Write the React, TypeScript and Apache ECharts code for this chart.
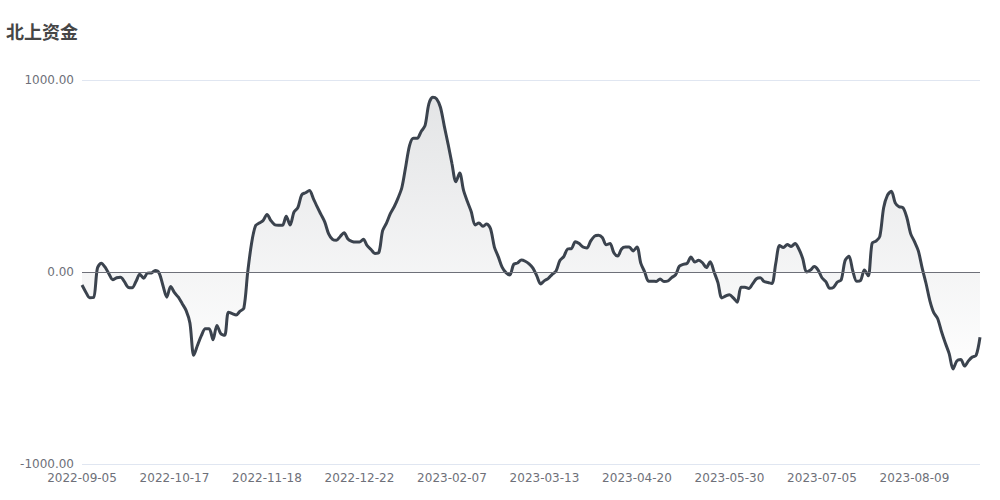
import React, { useEffect, useRef } from "react";
import * as echarts from "echarts";

const chartTitle = "北上资金";

const dates: string[] = [
  "2022-09-05","2022-09-06","2022-09-07","2022-09-08","2022-09-09","2022-09-13","2022-09-14","2022-09-15","2022-09-16","2022-09-19","2022-09-20","2022-09-21","2022-09-22","2022-09-23","2022-09-26","2022-09-27","2022-09-28","2022-09-29","2022-09-30","2022-10-10","2022-10-11","2022-10-12","2022-10-13","2022-10-14",
  "2022-10-17","2022-10-18","2022-10-19","2022-10-20","2022-10-21","2022-10-24","2022-10-25","2022-10-26","2022-10-27","2022-10-28","2022-10-31","2022-11-01","2022-11-02","2022-11-03","2022-11-04","2022-11-07","2022-11-08","2022-11-09","2022-11-10","2022-11-11","2022-11-14","2022-11-15","2022-11-16","2022-11-17",
  "2022-11-18","2022-11-21","2022-11-22","2022-11-23","2022-11-24","2022-11-25","2022-11-28","2022-11-29","2022-11-30","2022-12-01","2022-12-02","2022-12-05","2022-12-06","2022-12-07","2022-12-08","2022-12-09","2022-12-12","2022-12-13","2022-12-14","2022-12-15","2022-12-16","2022-12-19","2022-12-20","2022-12-21",
  "2022-12-22","2022-12-23","2022-12-28","2022-12-29","2022-12-30","2023-01-03","2023-01-04","2023-01-05","2023-01-06","2023-01-09","2023-01-10","2023-01-11","2023-01-12","2023-01-13","2023-01-16","2023-01-17","2023-01-18","2023-01-19","2023-01-30","2023-01-31","2023-02-01","2023-02-02","2023-02-03","2023-02-06",
  "2023-02-07","2023-02-08","2023-02-09","2023-02-10","2023-02-13","2023-02-14","2023-02-15","2023-02-16","2023-02-17","2023-02-20","2023-02-21","2023-02-22","2023-02-23","2023-02-24","2023-02-27","2023-02-28","2023-03-01","2023-03-02","2023-03-03","2023-03-06","2023-03-07","2023-03-08","2023-03-09","2023-03-10",
  "2023-03-13","2023-03-14","2023-03-15","2023-03-16","2023-03-17","2023-03-20","2023-03-21","2023-03-22","2023-03-23","2023-03-24","2023-03-27","2023-03-28","2023-03-29","2023-03-30","2023-03-31","2023-04-03","2023-04-04","2023-04-11","2023-04-12","2023-04-13","2023-04-14","2023-04-17","2023-04-18","2023-04-19",
  "2023-04-20","2023-04-21","2023-04-24","2023-04-25","2023-04-26","2023-04-27","2023-04-28","2023-05-04","2023-05-05","2023-05-08","2023-05-09","2023-05-10","2023-05-11","2023-05-12","2023-05-15","2023-05-16","2023-05-17","2023-05-18","2023-05-19","2023-05-22","2023-05-23","2023-05-24","2023-05-25","2023-05-29",
  "2023-05-30","2023-05-31","2023-06-01","2023-06-02","2023-06-05","2023-06-06","2023-06-07","2023-06-08","2023-06-09","2023-06-12","2023-06-13","2023-06-14","2023-06-15","2023-06-16","2023-06-19","2023-06-20","2023-06-21","2023-06-26","2023-06-27","2023-06-28","2023-06-29","2023-06-30","2023-07-03","2023-07-04",
  "2023-07-05","2023-07-06","2023-07-07","2023-07-10","2023-07-11","2023-07-12","2023-07-13","2023-07-14","2023-07-18","2023-07-19","2023-07-20","2023-07-21","2023-07-24","2023-07-25","2023-07-26","2023-07-27","2023-07-28","2023-07-31","2023-08-01","2023-08-02","2023-08-03","2023-08-04","2023-08-07","2023-08-08",
  "2023-08-09","2023-08-10","2023-08-11","2023-08-14","2023-08-15","2023-08-16","2023-08-17","2023-08-18","2023-08-21","2023-08-22","2023-08-23","2023-08-24","2023-08-25","2023-08-28","2023-08-29","2023-08-30","2023-08-31","2023-09-01",
];

const netFlow: number[] = [
  -68, -105, -134, -133, 20, 46, 25, -10, -40, -30, -27, -50, -80, -82, -50, -12, -33, -6, -5, 8, -5, -70, -131, -75,
  -108, -131, -165, -200, -265, -434, -380, -330, -296, -296, -353, -278, -321, -330, -209, -217, -224, -204, -188, 0, 150, 240, 255, 268,
  300, 268, 246, 243, 243, 290, 245, 312, 335, 402, 413, 424, 384, 340, 300, 260, 198, 170, 165, 185, 205, 172, 160, 156,
  156, 170, 137, 117, 97, 101, 215, 255, 304, 340, 385, 440, 550, 660, 697, 697, 732, 762, 876, 910, 902, 858, 760, 665,
  564, 470, 515, 425, 367, 314, 245, 255, 238, 250, 225, 130, 80, 25, -3, -15, 40, 47, 62, 56, 42, 20, -20, -62,
  -45, -33, -12, 5, 60, 80, 120, 122, 158, 148, 130, 125, 162, 187, 191, 180, 142, 148, 100, 83, 120, 130, 130, 110,
  130, 45, 0, -48, -48, -49, -36, -50, -47, -29, -15, 30, 40, 45, 78, 52, 61, 48, 23, 54, 0, -55, -135, -125,
  -118, -135, -157, -80, -80, -86, -62, -35, -30, -50, -55, -60, 44, 138, 127, 143, 133, 148, 120, 70, 0, 10, 28, 10,
  -30, -50, -85, -80, -52, -40, 60, 82, 5, -48, -44, 10, -20, 150, 161, 185, 335, 400, 421, 360, 340, 335, 285, 200,
  158, 110, 20, -60, -150, -212, -242, -310, -370, -425, -505, -463, -456, -490, -463, -443, -434, -340,
];

const yMin = -1000;
const yMax = 1000;
const yStep = 1000;

export default function App() {
  const ref = useRef<HTMLDivElement>(null);
  useEffect(() => {
    document.body.style.margin = "0";
    if (!ref.current) return;
    const chart = echarts.init(ref.current, undefined, { renderer: "svg" });
    chart.setOption({
      animation: false,
      backgroundColor: "#ffffff",
      textStyle: { fontFamily: "'DejaVu Sans', 'Noto Sans CJK SC', sans-serif" },
      title: {
        text: chartTitle,
        left: 1,
        top: 17,
        textStyle: {
          fontSize: 18,
          fontWeight: "bold",
          color: "#464646",
          fontFamily: "'Noto Sans CJK SC', 'DejaVu Sans', sans-serif",
        },
      },
      grid: { left: 82, right: 20, top: 80, bottom: 36 },
      xAxis: {
        type: "category",
        data: dates,
        boundaryGap: false,
        axisLine: { show: false },
        axisTick: { show: false },
        axisLabel: { interval: 23, color: "#6E7079", fontSize: 12, margin: 8 },
      },
      yAxis: {
        type: "value",
        min: yMin,
        max: yMax,
        interval: yStep,
        axisLabel: {
          color: "#6E7079",
          fontSize: 12,
          formatter: (v: number) => v.toFixed(2),
        },
        splitLine: { lineStyle: { color: "#E0E6F1" } },
      },
      series: [
        {
          type: "line",
          data: netFlow,
          smooth: 0.3,
          symbol: "none",
          lineStyle: { color: "#3b434e", width: 3 },
          itemStyle: { color: "#3b434e" },
          areaStyle: {
            color: new echarts.graphic.LinearGradient(0, 0, 0, 1, [
              { offset: 0, color: "rgba(59,67,78,0.2)" },
              { offset: 1, color: "rgba(59,67,78,0.01)" },
            ]),
          },
          markLine: {
            silent: true,
            symbol: "none",
            label: { show: false },
            lineStyle: { color: "#6E7079", width: 1, type: "solid" },
            data: [{ yAxis: 0 }],
          },
        },
      ],
    });
    return () => chart.dispose();
  }, []);
  return <div ref={ref} style={{ width: 1000, height: 500 }} />;
}
